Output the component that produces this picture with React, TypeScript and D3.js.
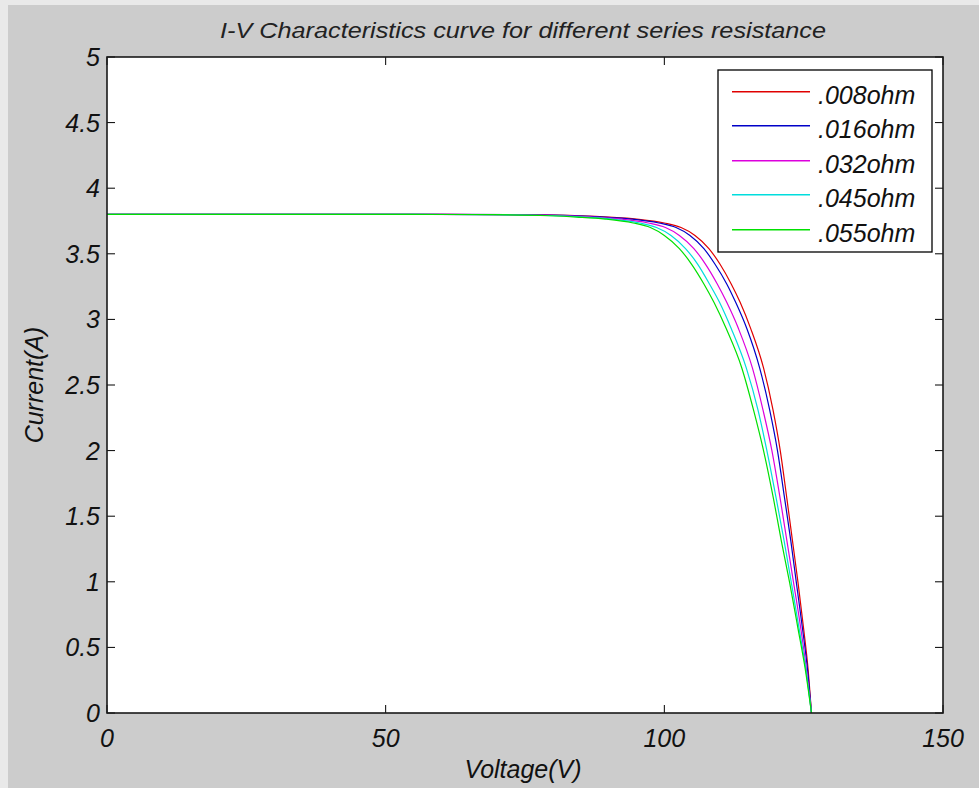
import React from 'react';
import * as d3 from 'd3';

const W = 979;
const H = 788;

const seriesNames = ['.008ohm', '.016ohm', '.032ohm', '.045ohm', '.055ohm'];
const seriesColors = ['#e00000', '#0000c8', '#dd00dd', '#00dddd', '#00e000'];

// Current values (A) shared by all curves
const currentPts = [3.80, 3.80, 3.798, 3.79, 3.78, 3.765, 3.735, 3.70, 3.64, 3.54, 3.42, 3.27, 3.13, 2.93, 2.63, 2.31, 2.0, 1.63, 1.31, 0.99, 0.64, 0.33, 0];

// Voltage values (V) per series
const voltage008 = [0, 60, 75, 85, 90, 95, 100, 103, 105.5, 108, 110, 112, 113.6, 115.5, 117.8, 119.5, 120.8, 122, 123, 124, 125, 125.8, 126.4];
const voltage016 = [0, 59, 74.0, 84.0, 89.0, 94.0, 99.0, 102.1, 104.6, 107.1, 109.1, 111.2, 112.8, 114.8, 117.1, 118.9, 120.3, 121.6, 122.7, 123.7, 124.8, 125.7, 126.4];
const voltage032 = [0, 57.1, 72.1, 82.1, 87.1, 92.1, 97.1, 100.2, 102.7, 105.3, 107.4, 109.5, 111.2, 113.3, 115.8, 117.7, 119.3, 120.8, 122.0, 123.2, 124.5, 125.5, 126.4];
const voltage045 = [0, 55.5, 70.5, 80.5, 85.5, 90.6, 95.6, 98.6, 101.2, 103.8, 106.0, 108.1, 109.9, 112.0, 114.7, 116.8, 118.4, 120.1, 121.5, 122.8, 124.2, 125.4, 126.4];
const voltage055 = [0, 54.3, 69.3, 79.3, 84.3, 89.4, 94.4, 97.5, 100.0, 102.7, 104.9, 107.1, 108.9, 111.1, 113.9, 116.0, 117.8, 119.6, 121.0, 122.5, 124.0, 125.3, 126.4];

const seriesVoltages = [voltage008, voltage016, voltage032, voltage045, voltage055];

const xTicks = [0, 50, 100, 150];
const yTicks = [0, 0.5, 1, 1.5, 2, 2.5, 3, 3.5, 4, 4.5, 5];

const FONT = '"Liberation Sans", Arial, sans-serif';

export default function App() {
  const left = 107, right = 943, top = 57, bottom = 713;
  const x = d3.scaleLinear().domain([0, 150]).range([left, right]);
  const y = d3.scaleLinear().domain([0, 5]).range([bottom, top]);

  const line = d3
    .line<[number, number]>()
    .x((d) => x(d[0]))
    .y((d) => y(d[1]))
    .curve(d3.curveMonotoneX);

  const tickLen = 8;

  const legend = { x0: 718, x1: 932, y0: 70, y1: 252, lineX0: 732, lineX1: 810, textX: 818, firstY: 91.5, step: 34.5 };

  return (
    <svg width={W} height={H} style={{ position: 'absolute', left: 0, top: 0 }} fontFamily={FONT}>
      <rect x={0} y={0} width={W} height={H} fill="#e9e9e9" />
      <rect x={8} y={5} width={W - 8} height={H - 5} fill="#cccccc" />
      <rect x={left} y={top} width={right - left} height={bottom - top} fill="#ffffff" />

      <defs>
        <clipPath id="plotClip">
          <rect x={left} y={top} width={right - left} height={bottom - top + 3} />
        </clipPath>
      </defs>

      <g clipPath="url(#plotClip)">
        {seriesVoltages.map((vs, i) => {
          const pts: [number, number][] = vs.map((v, k) => [v, currentPts[k]]);
          return (
            <path key={i} d={line(pts) || ''} fill="none" stroke={seriesColors[i]} strokeWidth={1.2} />
          );
        })}
      </g>

      {/* ticks */}
      {xTicks.map((t) => (
        <g key={'xt' + t}>
          <line x1={x(t)} x2={x(t)} y1={bottom} y2={bottom - tickLen} stroke="#000" strokeWidth={1} />
          <line x1={x(t)} x2={x(t)} y1={top} y2={top + tickLen} stroke="#000" strokeWidth={1} />
          <text x={x(t)} y={747} textAnchor="middle" fontSize={25} fontStyle="italic" fill="#111">
            {String(t)}
          </text>
        </g>
      ))}
      {yTicks.map((t) => (
        <g key={'yt' + t}>
          <line x1={left} x2={left + tickLen} y1={y(t)} y2={y(t)} stroke="#000" strokeWidth={1} />
          <line x1={right} x2={right - tickLen} y1={y(t)} y2={y(t)} stroke="#000" strokeWidth={1} />
          <text x={100} y={y(t) + 9} textAnchor="end" fontSize={25} fontStyle="italic" fill="#111">
            {String(t)}
          </text>
        </g>
      ))}

      <rect x={left} y={top} width={right - left} height={bottom - top} fill="none" stroke="#1a1a1a" strokeWidth={1.6} />

      {/* legend */}
      <rect x={legend.x0} y={legend.y0} width={legend.x1 - legend.x0} height={legend.y1 - legend.y0} fill="#ffffff" stroke="#000" strokeWidth={1.3} />
      {seriesNames.map((name, i) => {
        const ly = Math.round(legend.firstY + i * legend.step);
        return (
          <g key={name}>
            <rect x={legend.lineX0} y={ly - 1} width={legend.lineX1 - legend.lineX0} height={1.5} fill={seriesColors[i]} />
            <text x={legend.textX} y={ly + 12} fontSize={25} fontStyle="italic" fill="#111">
              {name}
            </text>
          </g>
        );
      })}

      {/* title and labels */}
      <text x={523} y={38} textAnchor="middle" fontSize={22} fontStyle="italic" fill="#222" textLength={606} lengthAdjust="spacingAndGlyphs">
        I-V Characteristics curve for different series resistance
      </text>
      <text x={523} y={778} textAnchor="middle" fontSize={25} fontStyle="italic" fill="#111">
        Voltage(V)
      </text>
      <text transform="translate(43,385) rotate(-90)" textAnchor="middle" fontSize={25} fontStyle="italic" fill="#111">
        Current(A)
      </text>
    </svg>
  );
}
